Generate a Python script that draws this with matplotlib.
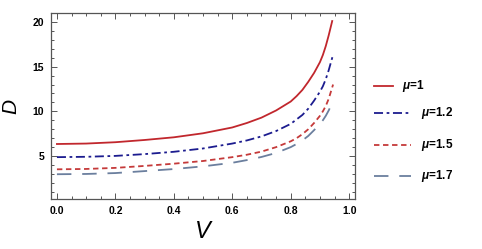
import matplotlib
matplotlib.use('Agg')
import matplotlib.pyplot as plt
from matplotlib.lines import Line2D
from matplotlib.ticker import MultipleLocator

plt.rcParams['font.family'] = ['Liberation Sans', 'DejaVu Sans']
plt.rcParams['mathtext.fontset'] = 'custom'
plt.rcParams['mathtext.it'] = 'Liberation Sans:italic:bold'
plt.rcParams['mathtext.rm'] = 'Liberation Sans:bold'

# values
v_red = [0.0, 0.1, 0.2, 0.3, 0.4, 0.5, 0.6, 0.65, 0.7, 0.75, 0.8, 0.82, 0.84, 0.86,
         0.88, 0.9, 0.91, 0.92, 0.93, 0.942]
d_mu1 = [6.35, 6.4, 6.55, 6.8, 7.1, 7.55, 8.2, 8.7, 9.3, 10.1, 11.1, 11.7, 12.4, 13.3,
         14.3, 15.5, 16.3, 17.3, 18.5, 20.1]

v_blue = [0.0, 0.1, 0.2, 0.3, 0.4, 0.5, 0.6, 0.65, 0.7, 0.75, 0.8, 0.82, 0.84, 0.86,
          0.88, 0.9, 0.91, 0.92, 0.93, 0.943]
d_mu12 = [4.88, 4.92, 5.02, 5.22, 5.48, 5.85, 6.4, 6.75, 7.2, 7.8, 8.6, 9.1, 9.6, 10.3,
          11.2, 12.2, 12.8, 13.6, 14.6, 16.1]

v_dash = [0.0, 0.1, 0.2, 0.3, 0.4, 0.5, 0.6, 0.65, 0.7, 0.75, 0.8, 0.82, 0.84, 0.86,
          0.88, 0.9, 0.91, 0.92, 0.93, 0.945]
d_mu15 = [3.52, 3.56, 3.68, 3.9, 4.15, 4.45, 4.88, 5.15, 5.5, 6.0, 6.65, 7.0, 7.45, 8.0,
          8.7, 9.5, 10.0, 10.6, 11.4, 13.0]

v_gray = [0.0, 0.1, 0.2, 0.3, 0.4, 0.5, 0.6, 0.65, 0.7, 0.75, 0.8, 0.82, 0.84, 0.86,
          0.88, 0.9, 0.91, 0.92, 0.93, 0.94]
d_mu17 = [2.97, 3.0, 3.1, 3.32, 3.55, 3.85, 4.25, 4.55, 4.9, 5.35, 6.0, 6.35, 6.75, 7.25,
          7.9, 8.6, 9.0, 9.5, 10.1, 10.8]

labels = [r'$\mu$=1', r'$\mu$=1.2', r'$\mu$=1.5', r'$\mu$=1.7']
colors = ['#c1272d', '#1c1c8f', '#c53a3a', '#6b7f9e']
styles = ['-', (0, (5, 2, 1.5, 2)), (0, (3, 2)), (0, (8, 6))]

fig = plt.figure(figsize=(4.82, 2.49), dpi=100)
ax = fig.add_axes([0.106, 0.2008, 0.6305, 0.747])

series = [(v_red, d_mu1), (v_blue, d_mu12), (v_dash, d_mu15), (v_gray, d_mu17)]
for (x, y), c, ls in zip(series, colors, styles):
    ax.plot(x, y, color=c, linestyle=ls, linewidth=1.3)

ax.set_xlim(-0.02, 1.02)
ax.set_ylim(0.2, 21)
ax.xaxis.set_minor_locator(MultipleLocator(0.05))
ax.yaxis.set_minor_locator(MultipleLocator(1))
ax.set_xticks([0, 0.2, 0.4, 0.6, 0.8, 1.0])
ax.set_xticklabels(['0.0', '0.2', '0.4', '0.6', '0.8', '1.0'])
ax.set_yticks([5, 10, 15, 20])
ax.tick_params(which='both', direction='in', top=True, right=True,
               color='#555555', width=0.7)
ax.tick_params(which='major', length=4, labelsize=7.5, pad=5)
ax.tick_params(which='minor', length=2)
for lab in ax.get_xticklabels() + ax.get_yticklabels():
    lab.set_fontweight('bold')
for s in ax.spines.values():
    s.set_color('#555555')
    s.set_linewidth(0.9)

ax.set_xlabel('V', fontsize=17, fontstyle='italic', labelpad=3)
ax.set_ylabel('D', fontsize=15, fontstyle='italic', labelpad=9)

# hand-made legend (short handle for the solid line, as in the original)
rows = [0.655, 0.545, 0.418, 0.293]
hend = [0.815, 0.853, 0.853, 0.853]
for y, c, ls, lab, he in zip(rows, colors, styles, labels, hend):
    fig.add_artist(Line2D([0.776, he], [y, y], color=c, linestyle=ls,
                          linewidth=1.3, transform=fig.transFigure))
    fig.text(he + 0.02, y, lab, fontsize=8.5, fontweight='bold', va='center')

plt.savefig('out.png', dpi=100)
plt.close('all')
